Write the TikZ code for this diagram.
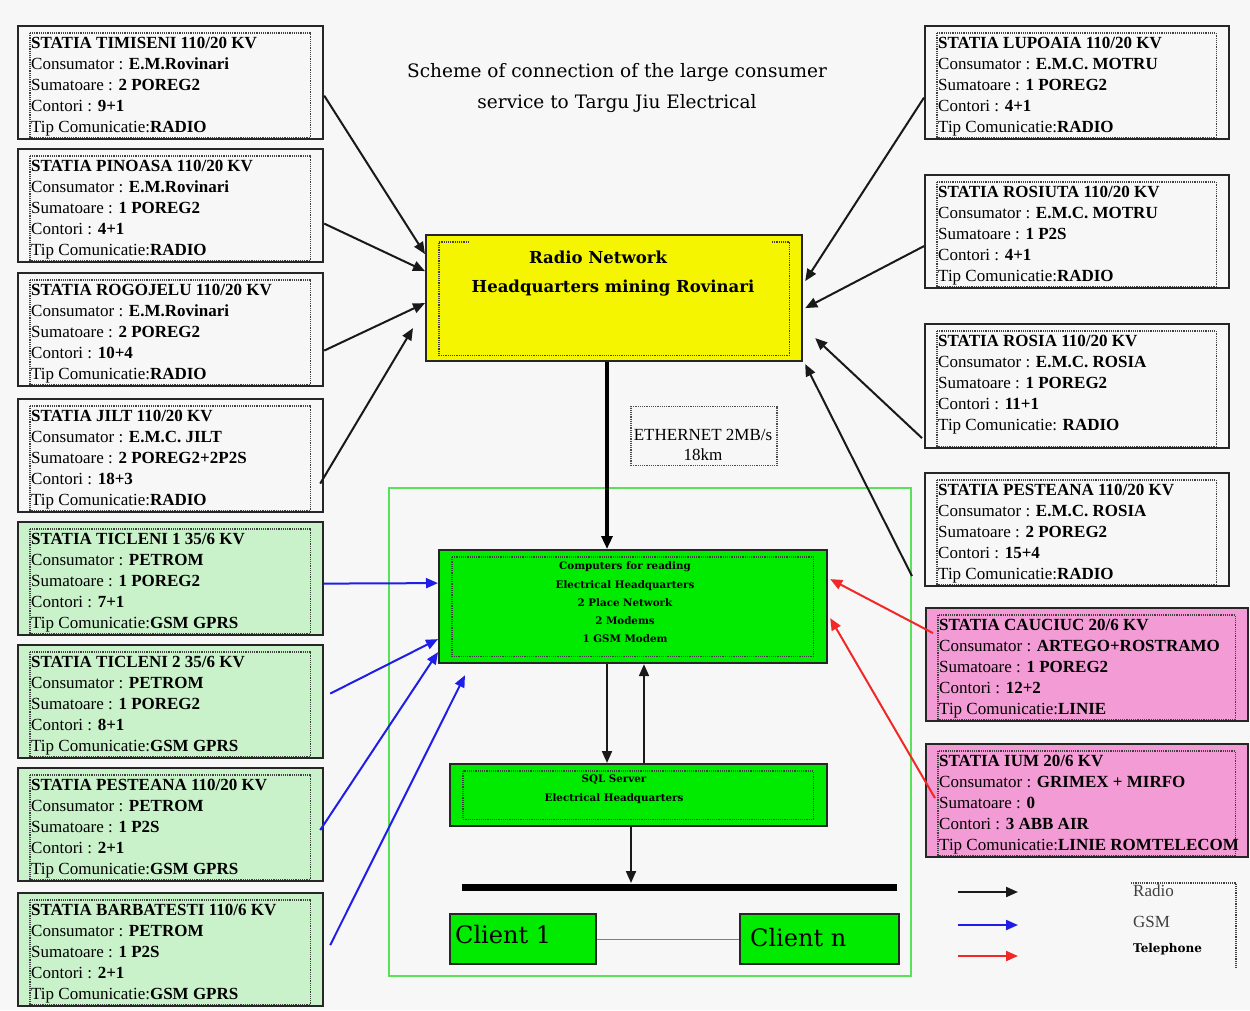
\documentclass[tikz,border=0pt]{standalone}
\usepackage{fontspec}
\setmainfont{Liberation Serif}
\newfontfamily\bkf{DejaVu Serif}
\usetikzlibrary{arrows.meta,calc}
\definecolor{bgc}{RGB}{247,247,247}
\definecolor{lgreen}{RGB}{202,242,202}
\definecolor{pinkc}{RGB}{243,155,212}
\definecolor{yellowc}{RGB}{245,245,0}
\definecolor{bgreen}{RGB}{0,235,0}
\definecolor{frgreen}{RGB}{90,225,90}
\definecolor{gsmblue}{RGB}{30,30,230}
\definecolor{telred}{RGB}{240,40,40}
\tikzset{
 sbox/.style={draw=black!85, line width=2.2pt, anchor=north west, inner sep=0pt, minimum height=113pt},
 innerdot/.style={draw=black!75, densely dotted, line width=1.2pt},
 sttext/.style={anchor=north west, align=left, inner sep=0pt, font=\fontsize{17}{21}\selectfont},
 radio/.style={draw=black!90, line width=2pt, -{Triangle[length=12pt,width=10pt]}},
 gsm/.style={draw=gsmblue, line width=2pt, -{Triangle[length=12pt,width=10pt]}},
 tel/.style={draw=telred, line width=2pt, -{Triangle[length=12pt,width=10pt]}},
 gbox/.style={draw=black!85, line width=2.2pt, fill=bgreen, anchor=north west, inner sep=0pt},
 midtext/.style={font=\bkf\bfseries\fontsize{10.3}{18.3}\selectfont, align=center, inner sep=0pt},
}
\newcommand\sttx[5]{\textbf{#1}\\Consumator : \textbf{#2}\\Sumatoare : \textbf{#3}\\Contori : \textbf{#4}\\Tip Comunicatie:\textbf{#5}}
\newcommand\stbox[5]{%
 \node[sbox, #4, minimum width=#3] (#1) at #2 {};
 \draw[innerdot] ([shift={(13pt,-8pt)}]#1.north west) rectangle ([shift={(-14pt,3pt)}]#1.south east);
 \node[sttext] (#1t) at ([shift={(14pt,-12pt)}]#1.north west) {#5};
}
\begin{document}
\begin{tikzpicture}[x=1pt,y=-1pt]
\useasboundingbox (0,0) rectangle (1250,1010);
\fill[bgc] (0,0) rectangle (1250,1010);

% title
\node[font=\bkf\fontsize{18.5}{31}\selectfont, align=center] (title) at (617,88) {Scheme of connection of the large consumer\\service to Targu Jiu Electrical};

% green frame
\node[draw=frgreen, line width=1.5pt, anchor=north west, minimum width=522pt, minimum height=488pt, inner sep=0pt] (frame) at (388,487) {};

% left stations
\stbox{tim}{(17,25)}{305pt}{fill=bgc}{\sttx{STATIA TIMISENI 110/20 KV}{E.M.Rovinari}{2 POREG2}{9+1}{RADIO}}
\stbox{pin}{(17,148)}{305pt}{fill=bgc}{\sttx{STATIA PINOASA 110/20 KV}{E.M.Rovinari}{1 POREG2}{4+1}{RADIO}}
\stbox{rog}{(17,272)}{305pt}{fill=bgc}{\sttx{STATIA ROGOJELU 110/20 KV}{E.M.Rovinari}{2 POREG2}{10+4}{RADIO}}
\stbox{jil}{(17,398)}{305pt}{fill=bgc}{\sttx{STATIA JILT 110/20 KV}{E.M.C. JILT}{2 POREG2+2P2S}{18+3}{RADIO}}
\stbox{tc1}{(17,521)}{305pt}{fill=lgreen}{\sttx{STATIA TICLENI 1 35/6 KV}{PETROM}{1 POREG2}{7+1}{GSM GPRS}}
\stbox{tc2}{(17,644)}{305pt}{fill=lgreen}{\sttx{STATIA TICLENI 2 35/6 KV}{PETROM}{1 POREG2}{8+1}{GSM GPRS}}
\stbox{pet}{(17,767)}{305pt}{fill=lgreen}{\sttx{STATIA PESTEANA 110/20 KV}{PETROM}{1 P2S}{2+1}{GSM GPRS}}
\stbox{bar}{(17,892)}{305pt}{fill=lgreen}{\sttx{STATIA BARBATESTI 110/6 KV}{PETROM}{1 P2S}{2+1}{GSM GPRS}}

% right stations
\stbox{lup}{(924,25)}{304pt}{fill=bgc}{\sttx{STATIA LUPOAIA 110/20 KV}{E.M.C. MOTRU}{1 POREG2}{4+1}{RADIO}}
\stbox{rsu}{(924,174)}{304pt}{fill=bgc}{\sttx{STATIA ROSIUTA 110/20 KV}{E.M.C. MOTRU}{1 P2S}{4+1}{RADIO}}
\stbox{rsa}{(924,323)}{304pt}{fill=bgc, minimum height=124pt}{\sttx{STATIA ROSIA 110/20 KV}{E.M.C. ROSIA}{1 POREG2}{11+1}{ RADIO}}
\stbox{per}{(924,472)}{304pt}{fill=bgc}{\sttx{STATIA PESTEANA 110/20 KV}{E.M.C. ROSIA}{2 POREG2}{15+4}{RADIO}}
\stbox{cau}{(925,607)}{322pt}{fill=pinkc}{\sttx{STATIA CAUCIUC 20/6 KV}{ARTEGO+ROSTRAMO}{1 POREG2}{12+2}{LINIE}}
\stbox{ium}{(925,743)}{322pt}{fill=pinkc}{\sttx{STATIA IUM 20/6 KV}{GRIMEX + MIRFO}{0}{3 ABB AIR}{LINIE ROMTELECOM}}

% yellow headquarters box
\node[gbox, fill=yellowc, minimum width=376pt, minimum height=126pt] (hq) at (425,234) {};
\draw[innerdot] ([shift={(44pt,-8pt)}]hq.north west) -- ([shift={(14pt,-8pt)}]hq.north west) -- ([shift={(14pt,7pt)}]hq.south west) -- ([shift={(-14pt,7pt)}]hq.south east) -- ([shift={(-14pt,-8pt)}]hq.north east) -- ([shift={(-32pt,-8pt)}]hq.north east);
\node[font=\bkf\bfseries\fontsize{16.5}{20}\selectfont, inner sep=0pt] (hqa) at (598,257) {Radio Network};
\node[font=\bkf\bfseries\fontsize{16.5}{20}\selectfont, inner sep=0pt] (hqb) at (613,288) {Headquarters mining Rovinari};

% ethernet label
\node[draw=black!70, densely dotted, line width=1.2pt, minimum width=146pt, minimum height=59pt, inner sep=0pt] (ethbox) at (704,436) {};
\node[font=\fontsize{17}{20}\selectfont, align=center, inner sep=0pt] (eth) at (703,445) {ETHERNET 2MB/s\\18km};

% computers box
\node[gbox, minimum width=388pt, minimum height=113pt] (comp) at (438,549) {};
\draw[innerdot] ([shift={(14pt,-8pt)}]comp.north west) rectangle ([shift={(-15pt,8pt)}]comp.south east);
\node[midtext] (compt) at (625,602.5) {Computers for reading\\Electrical Headquarters\\2 Place Network\\2 Modems\\1 GSM Modem};

% SQL box
\node[gbox, minimum width=377pt, minimum height=62pt] (sql) at (449,763) {};
\draw[innerdot] ([shift={(14pt,-8pt)}]sql.north west) rectangle ([shift={(-15pt,8pt)}]sql.south east);
\node[midtext, font=\bkf\bfseries\fontsize{10.3}{19}\selectfont] (sqlt) at (614,789) {SQL Server\\Electrical Headquarters};

% vertical links
\coordinate (xa) at (607,0);
\coordinate (xb) at (644,0);
\draw[line width=3.2pt, -{Triangle[length=13pt,width=11pt]}] (hq.south -| xa) -- (comp.north -| xa);
\draw[radio] (comp.south -| xa) -- (sql.north -| xa);
\draw[radio] (sql.north -| xb) -- (comp.south -| xb);

% bus
\coordinate (busl) at (462,887);
\coordinate (busr) at (897,887);
\coordinate (bustap) at (631,883);
\draw[line width=7pt] (busl) -- (busr);
\draw[radio] (sql.south -| bustap) -- (bustap);

% clients
\node[gbox, minimum width=146pt, minimum height=50pt] (cl1) at (449,913) {};
\node[gbox, minimum width=159pt, minimum height=50pt] (cln) at (739,913) {};
\node[font=\bkf\fontsize{24}{24}\selectfont, anchor=base west, inner sep=0pt] (cl1t) at (455,943) {Client 1};
\node[font=\bkf\fontsize{24}{24}\selectfont, anchor=base west, inner sep=0pt] (clnt) at (750,946) {Client n};
\draw[black!50, line width=1.2pt] (cl1.east) -- (cln.west);

% radio links
\draw[radio] ([yshift=-13pt]tim.east) -- ([yshift=44pt]hq.west);
\draw[radio] ([yshift=-18pt]pin.east) -- ([yshift=27pt]hq.west);
\draw[radio] ([yshift=-21pt]rog.east) -- ([yshift=-5pt]hq.west);
\draw[radio] ([xshift=-4pt,yshift=-28pt]jil.east) -- ([xshift=-12pt,yshift=-30pt]hq.west);
\draw[radio] ([yshift=-15pt]lup.west) -- ([xshift=2pt,yshift=17pt]hq.east);
\draw[radio] ([yshift=-14.5pt]rsu.west) -- ([xshift=2pt,yshift=-10pt]hq.east);
\draw[radio] ([xshift=-2pt,yshift=-52pt]rsa.west) -- ([xshift=12pt,yshift=-40pt]hq.east);
\draw[radio] ([xshift=-12pt,yshift=-46.5pt]per.west) -- ([xshift=2pt,yshift=-66pt]hq.east);

% gsm links
\draw[gsm] ([yshift=-5pt]tc1.east) -- ([yshift=23.5pt]comp.west);
\draw[gsm] ([xshift=6pt,yshift=8pt]tc2.east) -- ([yshift=-32.5pt]comp.west);
\draw[gsm] ([xshift=-4pt,yshift=-5.5pt]pet.east) -- ([yshift=-45.5pt]comp.west);
\draw[gsm] ([xshift=6pt,yshift=4.5pt]bar.east) -- ([xshift=27pt,yshift=-11pt]comp.south west);

% telephone links
\draw[tel] ([xshift=8pt,yshift=31.5pt]cau.west) -- ([xshift=2pt,yshift=27.5pt]comp.east);
\draw[tel] ([xshift=10pt,yshift=2.5pt]ium.west) -- ([xshift=2pt,yshift=-11.5pt]comp.east);

% legend
\coordinate (lg1a) at (958,892); \coordinate (lg1b) at (1018,892);
\coordinate (lg2a) at (958,925); \coordinate (lg2b) at (1018,925);
\coordinate (lg3a) at (958,956); \coordinate (lg3b) at (1018,956);
\draw[radio] (lg1a) -- (lg1b);
\draw[gsm] (lg2a) -- (lg2b);
\draw[tel] (lg3a) -- (lg3b);
\node[anchor=west, font=\fontsize{17}{17}\selectfont, text=black!75, inner sep=0pt] (lrad) at (1133,891) {Radio};
\node[anchor=west, font=\fontsize{17}{17}\selectfont, text=black!75, inner sep=0pt] (lgsm) at (1133,922) {GSM};
\node[anchor=west, font=\bkf\bfseries\fontsize{12}{12}\selectfont, inner sep=0pt] (ltel) at (1133,949) {Telephone};
\draw[innerdot] (1131,883) -- (1236,883) -- (1236,968);
\end{tikzpicture}
\end{document}
